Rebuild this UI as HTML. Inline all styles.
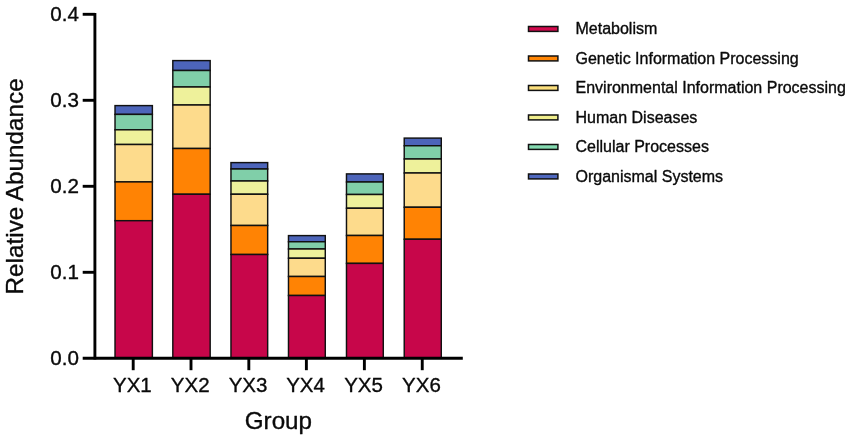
<!DOCTYPE html>
<html><head><meta charset="utf-8"><title>chart</title>
<style>
html,body{margin:0;padding:0;background:#fff;}
body{width:851px;height:440px;overflow:hidden;font-family:"Liberation Sans",sans-serif;}
svg{display:block;}
text{font-family:"Liberation Sans",sans-serif;fill:#0a0a0a;stroke:#0a0a0a;stroke-width:0.35px;stroke-linejoin:round;}
svg{will-change:transform;transform:translateZ(0);}
</style></head><body>
<svg width="851" height="440" viewBox="0 0 851 440">
<rect width="851" height="440" fill="#fff"/>
<rect x="115.02" y="105.60" width="37.35" height="8.80" fill="#4d65ba" stroke="#111" stroke-width="1.45"/>
<rect x="115.02" y="114.40" width="37.35" height="15.40" fill="#80cfa9" stroke="#111" stroke-width="1.45"/>
<rect x="115.02" y="129.80" width="37.35" height="14.70" fill="#eef19b" stroke="#111" stroke-width="1.45"/>
<rect x="115.02" y="144.50" width="37.35" height="37.40" fill="#fddb8c" stroke="#111" stroke-width="1.45"/>
<rect x="115.02" y="181.90" width="37.35" height="38.80" fill="#ff8304" stroke="#111" stroke-width="1.45"/>
<rect x="115.02" y="220.70" width="37.35" height="137.60" fill="#c7064a" stroke="#111" stroke-width="1.45"/>
<rect x="172.82" y="60.60" width="37.35" height="9.90" fill="#4d65ba" stroke="#111" stroke-width="1.45"/>
<rect x="172.82" y="70.50" width="37.35" height="16.50" fill="#80cfa9" stroke="#111" stroke-width="1.45"/>
<rect x="172.82" y="87.00" width="37.35" height="18.00" fill="#eef19b" stroke="#111" stroke-width="1.45"/>
<rect x="172.82" y="105.00" width="37.35" height="43.50" fill="#fddb8c" stroke="#111" stroke-width="1.45"/>
<rect x="172.82" y="148.50" width="37.35" height="45.75" fill="#ff8304" stroke="#111" stroke-width="1.45"/>
<rect x="172.82" y="194.25" width="37.35" height="164.05" fill="#c7064a" stroke="#111" stroke-width="1.45"/>
<rect x="230.97" y="162.60" width="36.70" height="6.40" fill="#4d65ba" stroke="#111" stroke-width="1.45"/>
<rect x="230.97" y="169.00" width="36.70" height="12.00" fill="#80cfa9" stroke="#111" stroke-width="1.45"/>
<rect x="230.97" y="181.00" width="36.70" height="13.25" fill="#eef19b" stroke="#111" stroke-width="1.45"/>
<rect x="230.97" y="194.25" width="36.70" height="31.25" fill="#fddb8c" stroke="#111" stroke-width="1.45"/>
<rect x="230.97" y="225.50" width="36.70" height="29.00" fill="#ff8304" stroke="#111" stroke-width="1.45"/>
<rect x="230.97" y="254.50" width="36.70" height="103.80" fill="#c7064a" stroke="#111" stroke-width="1.45"/>
<rect x="288.48" y="235.60" width="36.80" height="6.15" fill="#4d65ba" stroke="#111" stroke-width="1.45"/>
<rect x="288.48" y="241.75" width="36.80" height="7.25" fill="#80cfa9" stroke="#111" stroke-width="1.45"/>
<rect x="288.48" y="249.00" width="36.80" height="9.25" fill="#eef19b" stroke="#111" stroke-width="1.45"/>
<rect x="288.48" y="258.25" width="36.80" height="18.25" fill="#fddb8c" stroke="#111" stroke-width="1.45"/>
<rect x="288.48" y="276.50" width="36.80" height="19.00" fill="#ff8304" stroke="#111" stroke-width="1.45"/>
<rect x="288.48" y="295.50" width="36.80" height="62.80" fill="#c7064a" stroke="#111" stroke-width="1.45"/>
<rect x="346.48" y="173.90" width="36.80" height="8.10" fill="#4d65ba" stroke="#111" stroke-width="1.45"/>
<rect x="346.48" y="182.00" width="36.80" height="12.50" fill="#80cfa9" stroke="#111" stroke-width="1.45"/>
<rect x="346.48" y="194.50" width="36.80" height="13.75" fill="#eef19b" stroke="#111" stroke-width="1.45"/>
<rect x="346.48" y="208.25" width="36.80" height="27.25" fill="#fddb8c" stroke="#111" stroke-width="1.45"/>
<rect x="346.48" y="235.50" width="36.80" height="27.90" fill="#ff8304" stroke="#111" stroke-width="1.45"/>
<rect x="346.48" y="263.40" width="36.80" height="94.90" fill="#c7064a" stroke="#111" stroke-width="1.45"/>
<rect x="404.23" y="138.10" width="37.05" height="7.65" fill="#4d65ba" stroke="#111" stroke-width="1.45"/>
<rect x="404.23" y="145.75" width="37.05" height="13.25" fill="#80cfa9" stroke="#111" stroke-width="1.45"/>
<rect x="404.23" y="159.00" width="37.05" height="14.00" fill="#eef19b" stroke="#111" stroke-width="1.45"/>
<rect x="404.23" y="173.00" width="37.05" height="34.25" fill="#fddb8c" stroke="#111" stroke-width="1.45"/>
<rect x="404.23" y="207.25" width="37.05" height="32.00" fill="#ff8304" stroke="#111" stroke-width="1.45"/>
<rect x="404.23" y="239.25" width="37.05" height="119.05" fill="#c7064a" stroke="#111" stroke-width="1.45"/>
<g stroke="#000" stroke-width="2.9" fill="none">
<path d="M94.9 13.0 V359.6"/>
<path d="M82.7 358.3 H462.8"/>
<path d="M82.7 272.30 H94.9"/>
<path d="M82.7 186.30 H94.9"/>
<path d="M82.7 100.30 H94.9"/>
<path d="M82.7 14.30 H94.9"/>
<path d="M133.20 358.3 V370.2"/>
<path d="M191.00 358.3 V370.2"/>
<path d="M248.82 358.3 V370.2"/>
<path d="M306.38 358.3 V370.2"/>
<path d="M364.38 358.3 V370.2"/>
<path d="M422.25 358.3 V370.2"/>
</g>
<text x="79.0" y="364.80" font-size="20.6" text-anchor="end">0.0</text>
<text x="79.0" y="278.80" font-size="20.6" text-anchor="end">0.1</text>
<text x="79.0" y="192.80" font-size="20.6" text-anchor="end">0.2</text>
<text x="79.0" y="106.80" font-size="20.6" text-anchor="end">0.3</text>
<text x="79.0" y="20.80" font-size="20.6" text-anchor="end">0.4</text>
<text x="132.40" y="391.8" font-size="20.5" text-anchor="middle">YX1</text>
<text x="190.20" y="391.8" font-size="20.5" text-anchor="middle">YX2</text>
<text x="248.02" y="391.8" font-size="20.5" text-anchor="middle">YX3</text>
<text x="305.57" y="391.8" font-size="20.5" text-anchor="middle">YX4</text>
<text x="363.57" y="391.8" font-size="20.5" text-anchor="middle">YX5</text>
<text x="421.45" y="391.8" font-size="20.5" text-anchor="middle">YX6</text>
<text x="278.4" y="429.0" font-size="24.2" text-anchor="middle">Group</text>
<text transform="translate(23.2 186.4) rotate(-90)" font-size="24.3" text-anchor="middle">Relative Abundance</text>
<rect x="528.5" y="26.50" width="29.4" height="4.9" fill="#d20a4d" stroke="#111" stroke-width="1.5"/>
<text x="575.5" y="34.15" font-size="16">Metabolism</text>
<rect x="528.5" y="56.00" width="29.4" height="4.9" fill="#ff8505" stroke="#111" stroke-width="1.5"/>
<text x="575.5" y="63.65" font-size="16">Genetic Information Processing</text>
<rect x="528.5" y="85.50" width="29.4" height="4.9" fill="#fade7c" stroke="#111" stroke-width="1.5"/>
<text x="575.5" y="93.15" font-size="16">Environmental Information Processing</text>
<rect x="528.5" y="115.00" width="29.4" height="4.9" fill="#f0ee8c" stroke="#111" stroke-width="1.5"/>
<text x="575.5" y="122.65" font-size="16">Human Diseases</text>
<rect x="528.5" y="144.50" width="29.4" height="4.9" fill="#84dab0" stroke="#111" stroke-width="1.5"/>
<text x="575.5" y="152.15" font-size="16">Cellular Processes</text>
<rect x="528.5" y="174.00" width="29.4" height="4.9" fill="#4f68bf" stroke="#111" stroke-width="1.5"/>
<text x="575.5" y="181.65" font-size="16">Organismal Systems</text>
</svg>
</body></html>
